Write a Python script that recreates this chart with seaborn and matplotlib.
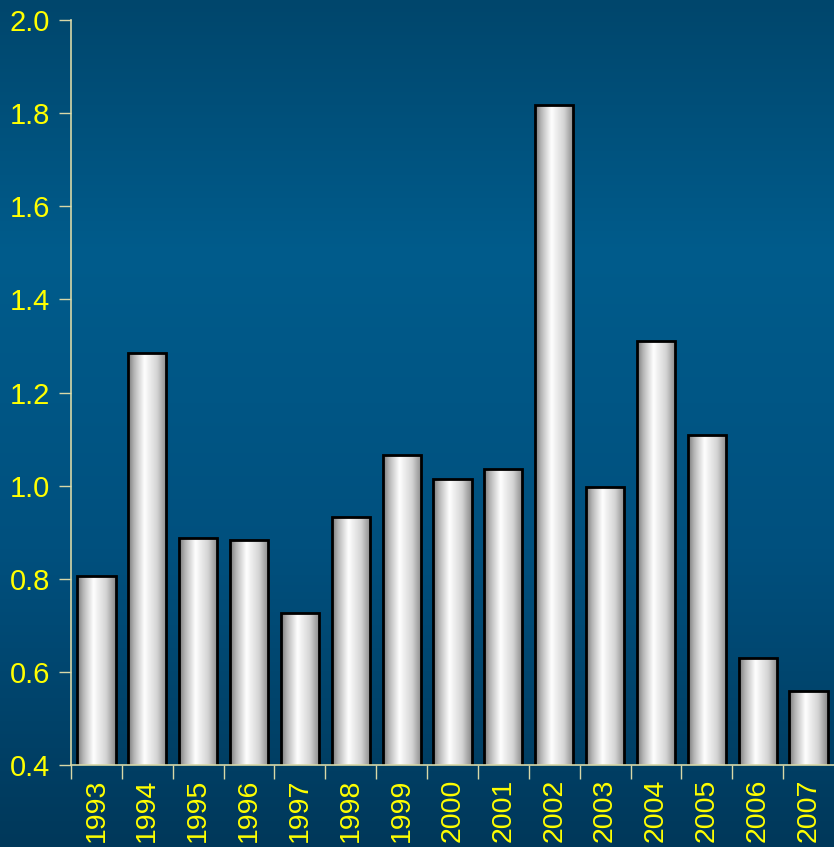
import numpy as np
import pandas as pd
import seaborn as sns
import matplotlib
matplotlib.use("Agg")
from matplotlib import pyplot as plt
from matplotlib.colors import LinearSegmentedColormap

years = ["1993", "1994", "1995", "1996", "1997", "1998", "1999", "2000",
         "2001", "2002", "2003", "2004", "2005", "2006", "2007"]
values = [0.806, 1.285, 0.888, 0.883, 0.726, 0.933, 1.066, 1.014,
          1.036, 1.818, 0.997, 1.311, 1.109, 0.630, 0.559]
y_ticks = [0.4, 0.6, 0.8, 1.0, 1.2, 1.4, 1.6, 1.8, 2.0]
y_min, y_max = 0.4, 2.0

df = pd.DataFrame({"year": years, "value": values})

sns.set_style("white")
plt.rcParams['font.family'] = ['Liberation Sans', 'DejaVu Sans']

fig = plt.figure(figsize=(8.34, 8.47), dpi=100)

# background gradient (dark blue, lighter in the middle)
bg = fig.add_axes([0, 0, 1, 1], zorder=0)
bg_cmap = LinearSegmentedColormap.from_list(
    "bg", [(0.0, "#00385a"), (0.35, "#00507e"), (0.7, "#005c8c"), (1.0, "#00466c")])
bg.imshow(np.linspace(0, 1, 256).reshape(-1, 1), aspect="auto", cmap=bg_cmap,
          origin="lower", extent=[0, 1, 0, 1])
bg.set_axis_off()

ax = fig.add_axes([71 / 834, 1 - 765 / 847, 1 - 71 / 834, (765 - 20) / 847], zorder=1)
ax.set_facecolor("none")

sns.barplot(data=df, x="year", y="value", color="white", width=0.75,
            edgecolor="black", linewidth=2, ax=ax)

# horizontal metallic gradient inside each bar
bar_cmap = LinearSegmentedColormap.from_list(
    "bar", [(0.0, "#787878"), (0.15, "#b4b4b4"), (0.42, "#ffffff"),
            (0.75, "#d4d4d4"), (1.0, "#888888")])
grad = np.linspace(0, 1, 128).reshape(1, -1)
for p in ax.patches:
    x0, w, h = p.get_x(), p.get_width(), p.get_height()
    im = ax.imshow(grad, aspect="auto", cmap=bar_cmap,
                   extent=[x0, x0 + w, y_min, h],
                   zorder=p.get_zorder() - 0.1, interpolation="bicubic")
    im.set_clip_path(p)
    p.set_facecolor("none")

ax.set_xlim(-0.5, len(years) - 0.5)
ax.set_ylim(y_min, y_max)
ax.set_yticks(y_ticks, [f"{t:.1f}" for t in y_ticks])
ax.set_xticks(np.arange(len(years)), years, rotation=90)
ax.set_xlabel("")
ax.set_ylabel("")

axis_col = "#d8d8a8"
for s in ["top", "right"]:
    ax.spines[s].set_visible(False)
for s in ["left", "bottom"]:
    ax.spines[s].set_color(axis_col)
    ax.spines[s].set_linewidth(1.2)

ax.set_xticks(np.arange(len(years)) - 0.5, minor=True)
ax.tick_params(axis="x", which="minor", bottom=True, length=10, width=1,
               color=axis_col, direction="out")
ax.tick_params(axis="x", which="major", bottom=True, labelbottom=True, length=0,
               pad=10, labelsize=20.5, labelcolor="#ffff00")
ax.tick_params(axis="y", which="major", left=True, labelleft=True, length=9, width=1,
               color=axis_col, direction="out", labelsize=21, labelcolor="#ffff00", pad=6)

fig.savefig("out.png", dpi=100)
